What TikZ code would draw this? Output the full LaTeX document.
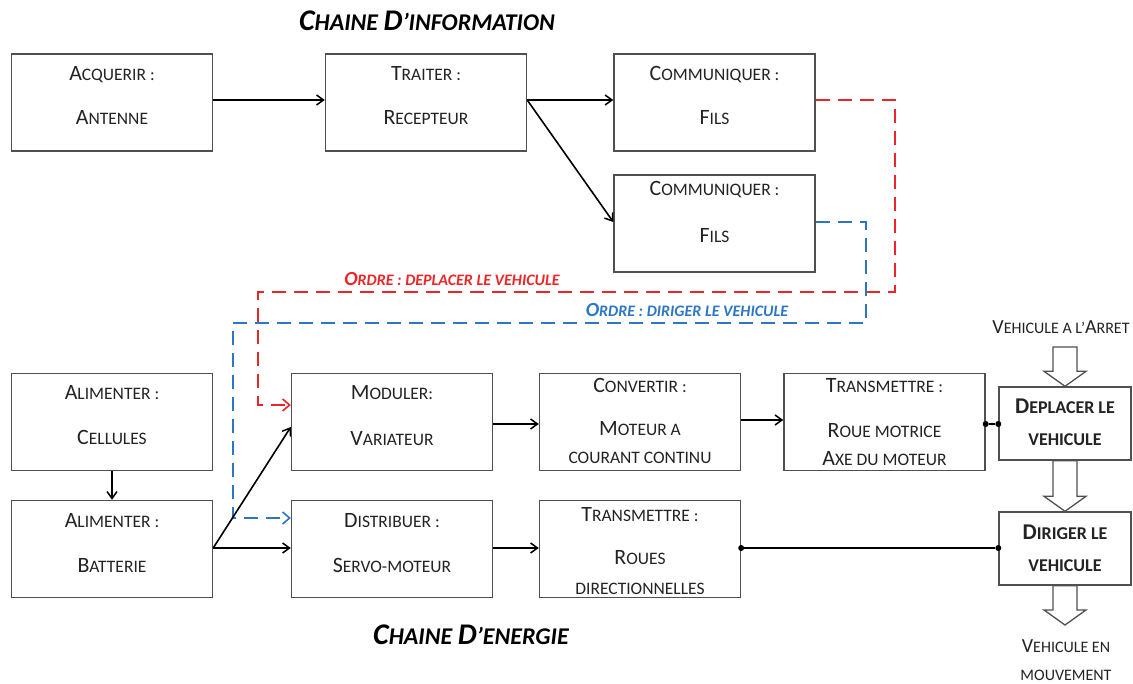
\documentclass[tikz,border=0pt]{standalone}
\usepackage{fontspec}
\usepackage{graphicx}
\setmainfont{Carlito}
\usetikzlibrary{arrows.meta,calc}

\definecolor{ordrered}{RGB}{236,38,40}
\definecolor{ordreblue}{RGB}{44,118,196}
\definecolor{boxline}{RGB}{80,80,80}
\definecolor{ink}{RGB}{35,35,35}

% capital letter of a word set in small caps
\newcommand\Up[1]{\scalebox{1.25}{#1}}

% block arrow drawn from one point down to another
\newcommand\blkarrow[2]{\path[blk] let \p1=(#1), \p2=(#2) in
  (\x1-12pt,\y1) -- (\x1+12pt,\y1) -- (\x1+12pt,\y2+15pt) -- (\x1+21pt,\y2+15pt)
  -- (\x1,\y2) -- (\x1-21pt,\y2+15pt) -- (\x1-12pt,\y2+15pt) -- cycle;}

\tikzset{
  box/.style={draw=boxline, line width=1.4pt, fill=white, inner sep=0pt,
    minimum width=201pt, minimum height=97pt},
  endbox/.style={box, minimum width=132pt, minimum height=73pt},
  txt/.style={anchor=base, inner sep=0pt, text=ink, font=\fontsize{17.5}{20}\selectfont},
  btxt/.style={txt, font=\fontsize{18}{20}\selectfont\bfseries},
  stxt/.style={txt, font=\fontsize{16}{18}\selectfont},
  title/.style={anchor=base, inner sep=0pt, text=black, font=\fontsize{24}{28}\selectfont\bfseries\itshape},
  ordre/.style={anchor=base, inner sep=0pt, font=\fontsize{16}{19}\selectfont\bfseries\itshape},
  link/.style={line width=1.6pt, draw=black, -{Straight Barb[length=7pt,width=10pt,line width=1.5pt]}},
  plain/.style={line width=1.6pt, draw=black},
  order/.style={line width=2pt, dash pattern=on 14pt off 8pt,
    -{Straight Barb[length=7pt,width=12pt,line width=1.6pt]}},
  dot/.style={circle, fill=black, inner sep=0pt, minimum size=6pt},
  blk/.style={draw=boxline, line width=1.3pt, fill=white},
}

\begin{document}
\begin{tikzpicture}[x=1pt,y=-1pt]
\useasboundingbox (0,0) rectangle (1133,684);

% titles
\node[title] (tinfo) at (427,31) {\Up{C}HAINE \Up{D}’INFORMATION};
\node[title] (tener) at (471,644) {\Up{C}HAINE \Up{D}’ENERGIE};

% information chain
\node[box] (acq)  at (112,102.5) {};
\node[box] (tra)  at (426,102.5) {};
\node[box] (com1) at (714.5,102.5) {};
\node[box] (com2) at (714.5,223.5) {};

\node[txt] (acq1) at (112,81)  {\Up{A}CQUERIR :};
\node[txt] (acq2) at (112,125) {\Up{A}NTENNE};
\node[txt] (tra1) at (426,81)  {\Up{T}RAITER :};
\node[txt] (tra2) at (426,125) {\Up{R}ECEPTEUR};
\node[txt] (c1a)  at (714.5,81)  {\Up{C}OMMUNIQUER :};
\node[txt] (c1b)  at (714.5,125) {\Up{F}ILS};
\node[txt] (c2a)  at (714.5,196) {\Up{C}OMMUNIQUER :};
\node[txt] (c2b)  at (714.5,243) {\Up{F}ILS};

% energy chain
\node[box] (cel) at (112,422) {};
\node[box] (bat) at (112,549) {};
\node[box] (mod) at (392,422) {};
\node[box] (dis) at (392,549) {};
\node[box] (con) at (640,422) {};
\node[box] (tr1) at (884.5,422) {};
\node[box] (tr2) at (640,549) {};
\node[endbox] (dep) at (1065,423.5) {};
\node[endbox] (dir) at (1065,548.5) {};

\node[txt] (cel1) at (112,400) {\Up{A}LIMENTER :};
\node[txt] (cel2) at (112,445) {\Up{C}ELLULES};
\node[txt] (bat1) at (112,527) {\Up{A}LIMENTER :};
\node[txt] (bat2) at (112,572) {\Up{B}ATTERIE};
\node[txt] (mod1) at (392,400) {\Up{M}ODULER:};
\node[txt] (mod2) at (392,446) {\Up{V}ARIATEUR};
\node[txt] (dis1) at (392,527) {\Up{D}ISTRIBUER :};
\node[txt] (dis2) at (392,572) {\Up{S}ERVO-MOTEUR};
\node[txt] (con1) at (640,393) {\Up{C}ONVERTIR :};
\node[txt] (con2) at (640,436) {\Up{M}OTEUR A};
\node[txt] (con3) at (640,464) {COURANT CONTINU};
\node[txt] (tr1a) at (884.5,393) {\Up{T}RANSMETTRE :};
\node[txt] (tr1b) at (884.5,438) {\Up{R}OUE MOTRICE};
\node[txt] (tr1c) at (884.5,466) {\Up{A}XE DU MOTEUR};
\node[txt] (tr2a) at (640,521) {\Up{T}RANSMETTRE :};
\node[txt] (tr2b) at (640,564) {\Up{R}OUES};
\node[txt] (tr2c) at (640,594) {DIRECTIONNELLES};

\node[btxt] (dep1) at (1065,414) {\Up{D}EPLACER LE};
\node[btxt] (dep2) at (1065,446) {VEHICULE};
\node[btxt] (dir1) at (1065,539) {\Up{D}IRIGER LE};
\node[btxt] (dir2) at (1065,571) {VEHICULE};

\node[stxt] (arret) at (1061,334) {\Up{V}EHICULE A L’\Up{A}RRET};
\node[stxt] (mvt1)  at (1066,652) {\Up{V}EHICULE EN};
\node[stxt] (mvt2)  at (1066,680) {MOUVEMENT};

% order labels
\node[ordre, text=ordrered]  (ord1) at (452,286) {\Up{O}RDRE : DEPLACER LE VEHICULE};
\node[ordre, text=ordreblue] (ord2) at (687,317) {\Up{O}RDRE : DIRIGER LE VEHICULE};

% information flow
\draw[link] ($(acq.east)+(0,-2.5)$) -- ($(tra.west)+(0,-2.5)$);
\draw[link] ($(tra.east)+(0,-2.5)$) -- ($(com1.west)+(0,-2.5)$);
\draw[link] ($(tra.east)+(0,-2.5)$) -- ($(com2.west)+(0,-1.5)$);

% orders sent to the energy chain
\coordinate (r1) at (895,292);
\coordinate (r2) at (258,292);
\coordinate (b1) at (866,323);
\coordinate (b2) at (233,323);
\draw[order, draw=ordrered] ($(com1.east)+(0,-2.5)$) -| (r1) -- (r2) |- ($(mod.west)+(0,-17)$);
\draw[order, draw=ordreblue] ($(com2.east)+(0,-1.5)$) -| (b1) -- (b2) |- ($(dis.west)+(0,-31)$);

% energy flow
\draw[link] (cel.south) -- (bat.north);
\draw[link] ($(bat.east)+(0,-1)$) -- ($(mod.west)+(0,5)$);
\draw[link] ($(bat.east)+(0,-1)$) -- ($(dis.west)+(0,-1)$);
\draw[link] ($(mod.east)+(0,2)$) -- ($(con.west)+(0,2)$);
\draw[link] ($(con.east)+(0,-2)$) -- ($(tr1.west)+(0,-2)$);
\draw[link] ($(dis.east)+(0,-1)$) -- ($(tr2.west)+(0,-1)$);

% mechanical links to the functions
\node[dot] (d1) at ($(tr1.east)+(0,2)$) {};
\node[dot] (d2) at ($(dep.west)+(0,0.5)$) {};
\draw[plain] (d1) -- (d2);
\node[dot] (d3) at ($(tr2.east)+(0,-1)$) {};
\node[dot] (d4) at ($(dir.west)+(0,-0.5)$) {};
\draw[plain] (d3) -- (d4);

% vehicle state arrows
\coordinate (arrtop) at (1065,347);
\coordinate (arrbot) at (1065,625);
\blkarrow{arrtop}{dep.north}
\blkarrow{dep.south}{dir.north}
\blkarrow{dir.south}{arrbot}
\end{tikzpicture}
\end{document}
